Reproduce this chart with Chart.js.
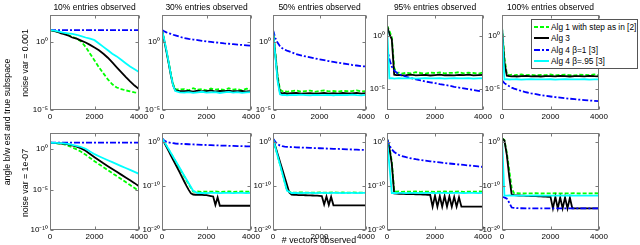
<!DOCTYPE html>
<html>
<head>
<meta charset="utf-8">
<script src="https://cdn.jsdelivr.net/npm/chart.js@4"></script>
<style>
  html, body { margin: 0; padding: 0; background: #fff; }
  #fig { position: relative; width: 640px; height: 245px; overflow: hidden; font-family: "Liberation Sans", Arial, sans-serif; color: #000; }
  #fig canvas { position: absolute; }
  .lbl { position: absolute; white-space: nowrap; font-size: 8.8px; line-height: 1; }
  .rot { transform: translate(-50%, -50%) rotate(-90deg); }
  .ctr { transform: translate(-50%, -50%); }
  #legend { position: absolute; left: 531px; top: 19px; width: 107px; height: 50px; box-sizing: border-box;
            border: 1px solid #555; background: #fff; font-size: 8.3px; padding-top: 1px; z-index: 5; }
  #legend .row { height: 11.5px; display: flex; align-items: center; white-space: nowrap; }
  #legend svg { margin: 0 2px 0 2px; flex: none; }
</style>
</head>
<body>
<div id="fig"></div>
<script>
// x positions (# vectors observed)
const xs = [0, 100, 200, 300, 400, 500, 600, 800, 1000, 1200, 1400, 1600, 1800, 2000, 2200, 2400, 2600, 2800, 3000, 3200, 3400, 3600, 3800, 4000];
// finer grid, used by the jumpy Alg 3 curves of the low-noise row
const xsFine = [0, 100, 200, 300, 400, 500, 600, 700, 800, 900, 1000, 1100, 1200, 1300, 1400, 1500, 1600, 1700, 1800, 1900, 2000,
                2100, 2200, 2300, 2400, 2500, 2600, 2700, 2800, 2900, 3000, 3100, 3200, 3300, 3400, 3500, 3600, 3700, 3800, 3900, 4000];

const panelTitles = ['10% entries observed', '30% entries observed', '50% entries observed', '95% entries observed', '100% entries observed'];
const noiseLabels = ['noise var = 0.001', 'noise var = 1e-07'];
const seriesNames = ['Alg 1 with step as in [2]', 'Alg 3', 'Alg 4 \u03b2=1 [3]', 'Alg 4 \u03b2=.95 [3]'];

const xTicks = [0, 2000, 4000];
const yTicksTop = [1, 1e-5];
const yTicksBottomFirst = [1, 1e-5, 1e-10];
const yTicksBottom = [1, 1e-10, 1e-20];
const yRangeTop = [[1e-5, 1e2], [1e-5, 1e2], [1e-5, 1e2], [1e-7, 1e2], [1e-7, 1e2]];
const yRangeBottom = [[1e-10, 1e2], [1e-20, 1e2], [1e-20, 1e2], [1e-20, 1e2], [1e-20, 1e2]];

// ---- noise var = 0.001 ----
const alg1_hi_10 = [7.6, 7.1, 6.6, 6.0, 5.6, 5.0, 4.5, 3.5, 2.5, 1.8, 1.12, 0.45, 0.14, 0.045, 0.014, 0.005, 0.0018, 7.9e-4, 4.5e-4, 3.5e-4, 2.8e-4, 2.4e-4, 2.0e-4, 1.8e-4];
const alg3_hi_10 = [7.6, 7.1, 6.6, 6.0, 5.2, 4.5, 4.0, 3.2, 2.2, 1.8, 1.3, 0.95, 0.63, 0.4, 0.25, 0.14, 0.071, 0.032, 0.014, 0.0063, 0.0028, 0.0013, 6.3e-4, 3.5e-4];
const alg4b1_hi_10 = [7.6, 7.6, 7.6, 7.6, 7.6, 7.6, 7.6, 7.6, 7.6, 7.6, 7.6, 7.6, 7.6, 7.6, 7.6, 7.6, 7.6, 7.6, 7.6, 7.6, 7.6, 7.6, 7.6, 7.6];
const alg4b95_hi_10 = [7.6, 7.4, 7.1, 6.6, 6.0, 5.5, 5.0, 4.5, 4.0, 3.5, 2.8, 2.2, 1.8, 1.4, 0.79, 0.45, 0.25, 0.14, 0.089, 0.05, 0.028, 0.016, 0.01, 0.0063];

const alg1_hi_30 = [7.9, 1.41, 0.22, 0.032, 0.0045, 7.9e-4, 3.5e-4, 3.2e-4, 3.5e-4, 2.8e-4, 4.0e-4, 3.2e-4, 3.5e-4, 2.8e-4, 3.8e-4, 3.2e-4, 3.5e-4, 3.0e-4, 4.0e-4, 3.2e-4, 3.5e-4, 2.8e-4, 3.8e-4, 3.3e-4];
const alg3_hi_30 = [7.9, 1.26, 0.2, 0.028, 0.0035, 6.3e-4, 2.8e-4, 2.5e-4, 2.4e-4, 2.6e-4, 2.3e-4, 2.7e-4, 2.4e-4, 2.5e-4, 2.75e-4, 2.3e-4, 2.6e-4, 2.45e-4, 2.7e-4, 2.4e-4, 2.5e-4, 2.6e-4, 2.3e-4, 2.5e-4];
const alg4b1_hi_30 = [7.9, 6.3, 5.2, 4.5, 4.0, 3.5, 3.2, 2.5, 2.0, 1.74, 1.55, 1.41, 1.26, 1.12, 1.05, 0.95, 0.89, 0.81, 0.76, 0.71, 0.66, 0.62, 0.58, 0.54];
const alg4b95_hi_30 = [7.9, 1.58, 0.25, 0.032, 0.004, 6.3e-4, 2.5e-4, 2.0e-4, 1.9e-4, 2.1e-4, 1.86e-4, 2.0e-4, 2.2e-4, 1.9e-4, 2.0e-4, 2.1e-4, 1.8e-4, 2.0e-4, 2.15e-4, 1.9e-4, 2.05e-4, 1.86e-4, 2.0e-4, 2.1e-4];

const alg1_hi_50 = [7.9, 0.16, 0.0032, 3.2e-4, 2.4e-4, 2.6e-4, 2.2e-4, 2.5e-4, 2.8e-4, 2.3e-4, 2.5e-4, 2.7e-4, 2.2e-4, 2.5e-4, 2.75e-4, 2.35e-4, 2.5e-4, 2.2e-4, 2.6e-4, 2.4e-4, 2.5e-4, 2.8e-4, 2.35e-4, 2.5e-4];
const alg3_hi_50 = [7.9, 0.126, 0.002, 2.0e-4, 1.66e-4, 1.78e-4, 1.58e-4, 1.74e-4, 1.82e-4, 1.62e-4, 1.7e-4, 1.78e-4, 1.58e-4, 1.7e-4, 1.82e-4, 1.62e-4, 1.74e-4, 1.58e-4, 1.78e-4, 1.66e-4, 1.7e-4, 1.82e-4, 1.62e-4, 1.74e-4];
const alg4b1_hi_50 = [7.9, 2.0, 0.89, 0.5, 0.35, 0.28, 0.24, 0.18, 0.13, 0.107, 0.089, 0.076, 0.063, 0.054, 0.047, 0.04, 0.035, 0.03, 0.027, 0.024, 0.021, 0.019, 0.017, 0.016];
const alg4b95_hi_50 = [7.9, 0.1, 0.00126, 1.41e-4, 1.26e-4, 1.32e-4, 1.2e-4, 1.29e-4, 1.23e-4, 1.35e-4, 1.26e-4, 1.2e-4, 1.32e-4, 1.26e-4, 1.23e-4, 1.29e-4, 1.2e-4, 1.32e-4, 1.26e-4, 1.23e-4, 1.35e-4, 1.26e-4, 1.2e-4, 1.29e-4];

const alg1_hi_95 = [10, 3.2, 0.79, 0.001, 3.2e-4, 3.5e-4, 2.8e-4, 3.3e-4, 3.0e-4, 3.8e-4, 3.2e-4, 2.8e-4, 3.5e-4, 3.2e-4, 3.6e-4, 3.0e-4, 3.3e-4, 3.2e-4, 3.8e-4, 3.0e-4, 3.4e-4, 3.2e-4, 2.8e-4, 3.5e-4];
const alg3_hi_95 = [10, 1.58, 0.5, 2.2e-4, 2.0e-4, 2.1e-4, 1.9e-4, 2.0e-4, 2.2e-4, 1.9e-4, 2.0e-4, 2.1e-4, 1.86e-4, 2.0e-4, 2.2e-4, 1.95e-4, 2.05e-4, 1.9e-4, 2.1e-4, 2.0e-4, 2.2e-4, 1.9e-4, 2.0e-4, 2.1e-4];
const alg4b1_hi_95 = [0.1, 0.0063, 0.00126, 5.6e-4, 3.5e-4, 2.5e-4, 2.0e-4, 1.41e-4, 1.05e-4, 7.9e-5, 6.3e-5, 5.0e-5, 4.2e-5, 3.5e-5, 2.8e-5, 2.4e-5, 2.0e-5, 1.58e-5, 1.32e-5, 1.12e-5, 9.3e-6, 7.9e-6, 6.6e-6, 5.6e-6];
const alg4b95_hi_95 = [10, 1.0e-4, 1.05e-4, 9.5e-5, 1.0e-4, 1.02e-4, 9.7e-5, 1.0e-4, 1.05e-4, 9.5e-5, 1.0e-4, 1.02e-4, 9.7e-5, 1.0e-4, 1.05e-4, 9.5e-5, 1.0e-4, 1.02e-4, 9.7e-5, 1.0e-4, 1.05e-4, 9.5e-5, 1.0e-4, 1.02e-4];

const alg1_hi_100 = [6.3, 0.01, 2.5e-4, 2.0e-4, 2.2e-4, 1.9e-4, 2.1e-4, 2.3e-4, 2.0e-4, 2.2e-4, 1.9e-4, 2.1e-4, 2.0e-4, 2.3e-4, 1.9e-4, 2.1e-4, 2.2e-4, 2.0e-4, 1.9e-4, 2.2e-4, 2.1e-4, 2.0e-4, 2.3e-4, 2.0e-4];
const alg3_hi_100 = [6.3, 0.0032, 1.8e-4, 1.6e-4, 1.55e-4, 1.65e-4, 1.5e-4, 1.6e-4, 1.7e-4, 1.55e-4, 1.6e-4, 1.5e-4, 1.65e-4, 1.6e-4, 1.55e-4, 1.7e-4, 1.6e-4, 1.5e-4, 1.65e-4, 1.6e-4, 1.55e-4, 1.7e-4, 1.6e-4, 1.55e-4];
const alg4b1_hi_100 = [6.3e-5, 3.5e-5, 2.5e-5, 1.78e-5, 1.32e-5, 1.05e-5, 8.9e-6, 6.3e-6, 4.8e-6, 3.8e-6, 3.2e-6, 2.6e-6, 2.2e-6, 1.9e-6, 1.66e-6, 1.48e-6, 1.32e-6, 1.17e-6, 1.07e-6, 9.5e-7, 8.7e-7, 7.9e-7, 7.4e-7, 6.8e-7];
const alg4b95_hi_100 = [10, 8.0e-5, 8.3e-5, 7.8e-5, 8.1e-5, 7.9e-5, 8.2e-5, 7.7e-5, 8.0e-5, 8.3e-5, 7.8e-5, 8.1e-5, 7.9e-5, 8.2e-5, 7.7e-5, 8.0e-5, 8.3e-5, 7.8e-5, 8.1e-5, 7.9e-5, 8.2e-5, 7.7e-5, 8.0e-5, 8.1e-5];

// ---- noise var = 1e-07 ----
const alg1_lo_10 = [6.3, 6.0, 5.75, 5.4, 5.0, 4.6, 4.2, 2.8, 1.66, 0.95, 0.48, 0.21, 0.083, 0.033, 0.0138, 0.0059, 0.0025, 0.00107, 4.7e-4, 2.0e-4, 8.5e-5, 3.6e-5, 1.58e-5, 6.3e-6];
const alg3_lo_10 = [6.3, 6.0, 5.75, 5.5, 5.2, 5.0, 4.8, 4.0, 3.0, 2.1, 1.26, 0.63, 0.25, 0.1, 0.042, 0.0178, 0.0079, 0.0035, 0.00158, 7.1e-4, 3.2e-4, 1.41e-4, 6.3e-5, 2.5e-5];
const alg4b1_lo_10 = [6.3, 6.3, 6.3, 6.3, 6.3, 6.3, 6.3, 6.3, 6.3, 6.3, 6.3, 6.3, 6.3, 6.3, 6.3, 6.3, 6.3, 6.3, 6.3, 6.3, 6.3, 6.3, 6.3, 6.3];
const alg4b95_lo_10 = [6.3, 6.2, 6.0, 5.9, 5.75, 5.5, 5.2, 4.6, 3.5, 2.6, 1.86, 1.12, 0.5, 0.24, 0.135, 0.076, 0.043, 0.0245, 0.0141, 0.0081, 0.0047, 0.0027, 0.00158, 8.9e-4];

const alg1_lo_30 = [6.3, 0.89, 0.126, 0.0158, 0.0022, 3.2e-4, 4.0e-5, 7.9e-7, 1.41e-8, 2.5e-10, 5.0e-12, 5.6e-12, 4.5e-12, 5.2e-12, 4.8e-12, 5.6e-12, 4.5e-12, 5.0e-12, 5.4e-12, 4.6e-12, 5.0e-12, 5.5e-12, 4.7e-12, 5.0e-12];
const alg3_lo_30 = [6.3, 0.66, 0.071, 0.0079, 7.9e-4, 7.9e-5, 8.9e-6, 1.0e-6, 1.0e-7, 1.0e-8, 1.0e-9, 1.0e-10, 1.26e-11, 2.0e-12, 1.12e-12, 1.0e-12, 1.0e-12, 8.9e-13, 8.9e-13, 7.9e-13, 7.9e-13,
                    6.3e-13, 5.0e-13, 4.0e-13, 5.0e-15, 2.5e-13, 3.2e-15, 3.2e-15, 3.2e-15, 3.2e-15, 3.2e-15, 3.2e-15, 3.2e-15, 3.2e-15, 3.2e-15, 3.2e-15, 3.2e-15, 3.2e-15, 3.2e-15, 3.2e-15, 3.2e-15];
const alg4b1_lo_30 = [6.3, 2.0, 1.0, 0.71, 0.56, 0.48, 0.42, 0.35, 0.32, 0.28, 0.25, 0.23, 0.21, 0.19, 0.17, 0.16, 0.145, 0.135, 0.126, 0.117, 0.11, 0.102, 0.095, 0.089];
const alg4b95_lo_30 = [6.3, 1.0, 0.141, 0.02, 0.0028, 4.0e-4, 5.6e-5, 1.12e-6, 2.0e-8, 4.0e-10, 7.9e-12, 2.5e-12, 2.6e-12, 2.4e-12, 2.5e-12, 2.6e-12, 2.4e-12, 2.5e-12, 2.6e-12, 2.4e-12, 2.5e-12, 2.6e-12, 2.4e-12, 2.5e-12];

const alg1_lo_50 = [5.4, 0.063, 7.1e-4, 7.9e-6, 8.9e-8, 8.9e-10, 1.0e-11, 3.2e-12, 2.9e-12, 3.4e-12, 3.0e-12, 3.2e-12, 2.8e-12, 3.3e-12, 3.1e-12, 2.9e-12, 3.4e-12, 3.0e-12, 3.2e-12, 2.8e-12, 3.3e-12, 3.1e-12, 2.9e-12, 3.2e-12];
const alg3_lo_50 = [5.4, 0.1, 0.0018, 3.2e-5, 5.6e-7, 1.0e-8, 1.8e-10, 3.2e-12, 1.0e-12, 9.5e-13, 8.9e-13, 8.5e-13, 7.9e-13, 7.8e-13, 7.6e-13, 7.2e-13, 7.1e-13, 6.6e-13, 6.3e-13, 6.0e-13, 5.6e-13,
                    5.0e-13, 6.3e-15, 4.0e-13, 5.0e-15, 3.2e-13, 4.0e-15, 4.0e-15, 4.0e-15, 4.0e-15, 4.0e-15, 4.0e-15, 4.0e-15, 4.0e-15, 4.0e-15, 4.0e-15, 4.0e-15, 4.0e-15, 4.0e-15, 4.0e-15, 4.0e-15];
const alg4b1_lo_50 = [5.4, 1.0, 0.32, 0.141, 0.1, 0.083, 0.074, 0.063, 0.056, 0.05, 0.046, 0.042, 0.038, 0.035, 0.032, 0.029, 0.026, 0.024, 0.022, 0.02, 0.018, 0.0166, 0.0151, 0.0138];
const alg4b95_lo_50 = [5.4, 0.059, 6.3e-4, 7.1e-6, 7.9e-8, 7.9e-10, 8.9e-12, 2.5e-12, 2.6e-12, 2.4e-12, 2.5e-12, 2.6e-12, 2.4e-12, 2.5e-12, 2.6e-12, 2.4e-12, 2.5e-12, 2.6e-12, 2.4e-12, 2.5e-12, 2.6e-12, 2.4e-12, 2.5e-12, 2.6e-12];

const alg1_lo_95 = [5.0, 0.1, 3.2e-5, 6.3e-12, 5.0e-12, 5.5e-12, 4.6e-12, 5.2e-12, 4.8e-12, 5.6e-12, 4.5e-12, 5.0e-12, 5.4e-12, 4.6e-12, 5.0e-12, 5.5e-12, 4.7e-12, 5.0e-12, 5.6e-12, 4.5e-12, 5.2e-12, 4.8e-12, 5.4e-12, 5.0e-12];
const alg3_lo_95 = [5.0, 0.032, 1.0e-5, 2.0e-12, 1.78e-12, 1.66e-12, 1.58e-12, 1.51e-12, 1.48e-12, 1.41e-12, 1.35e-12, 1.32e-12, 1.26e-12, 1.2e-12, 1.17e-12, 1.12e-12, 1.07e-12, 1.0e-12, 8.9e-13, 2.0e-15, 6.3e-13,
                    2.0e-15, 5.0e-13, 2.0e-15, 5.0e-13, 2.0e-15, 4.0e-13, 2.0e-15, 3.2e-13, 2.0e-15, 2.5e-13, 2.0e-15, 2.0e-15, 2.0e-15, 2.0e-15, 2.0e-15, 2.0e-15, 2.0e-15, 2.0e-15, 2.0e-15, 2.0e-15];
const alg4b1_lo_95 = [5.0, 0.158, 0.02, 0.005, 0.002, 0.001, 6.3e-4, 3.2e-4, 1.78e-4, 1.12e-4, 7.6e-5, 5.2e-5, 3.8e-5, 2.8e-5, 2.1e-5, 1.58e-5, 1.2e-5, 9.3e-6, 7.2e-6, 5.6e-6, 4.4e-6, 3.4e-6, 2.6e-6, 2.0e-6];
const alg4b95_lo_95 = [5.0, 3.2e-6, 2.5e-12, 2.6e-12, 2.4e-12, 2.5e-12, 2.6e-12, 2.4e-12, 2.5e-12, 2.6e-12, 2.4e-12, 2.5e-12, 2.6e-12, 2.4e-12, 2.5e-12, 2.6e-12, 2.4e-12, 2.5e-12, 2.6e-12, 2.4e-12, 2.5e-12, 2.6e-12, 2.4e-12, 2.5e-12];

const alg1_lo_100 = [6.3, 2.5, 0.0032, 3.2e-7, 3.2e-11, 2.0e-12, 2.2e-12, 1.9e-12, 2.1e-12, 2.0e-12, 2.2e-12, 1.9e-12, 2.1e-12, 2.0e-12, 2.2e-12, 1.9e-12, 2.1e-12, 2.0e-12, 2.2e-12, 1.9e-12, 2.1e-12, 2.0e-12, 2.2e-12, 2.0e-12];
const alg3_lo_100 = [6.3, 2.0, 0.001, 1.0e-8, 1.0e-12, 7.9e-13, 7.1e-13, 6.6e-13, 6.3e-13, 6.0e-13, 5.6e-13, 5.4e-13, 5.0e-13, 4.8e-13, 4.7e-13, 4.5e-13, 4.3e-13, 4.0e-13, 3.8e-13, 3.5e-13, 3.2e-13,
                     7.9e-16, 3.2e-13, 7.9e-16, 2.5e-13, 7.9e-16, 2.5e-13, 7.9e-16, 2.0e-13, 7.9e-16, 7.9e-16, 7.9e-16, 7.9e-16, 7.9e-16, 7.9e-16, 7.9e-16, 7.9e-16, 7.9e-16, 7.9e-16, 7.9e-16, 7.9e-16];
const alg4b1_lo_100 = [3.2e-13, 2.5e-13, 1.26e-13, 1.58e-14, 1.26e-15, 1.0e-15, 8.9e-16, 8.5e-16, 8.2e-16, 8.0e-16, 7.9e-16, 7.9e-16, 7.9e-16, 7.9e-16, 7.9e-16, 7.9e-16, 7.9e-16, 7.9e-16, 7.9e-16, 7.9e-16, 7.9e-16, 7.9e-16, 7.9e-16, 7.9e-16];
const alg4b95_lo_100 = [7.9, 6.3e-13, 6.0e-13, 6.6e-13, 6.2e-13, 6.4e-13, 6.0e-13, 6.5e-13, 6.3e-13, 6.1e-13, 6.6e-13, 6.2e-13, 6.4e-13, 6.0e-13, 6.5e-13, 6.3e-13, 6.1e-13, 6.6e-13, 6.2e-13, 6.4e-13, 6.0e-13, 6.5e-13, 6.3e-13, 6.2e-13];

const panels = [
  [[alg1_hi_10, alg3_hi_10, alg4b1_hi_10, alg4b95_hi_10],
   [alg1_hi_30, alg3_hi_30, alg4b1_hi_30, alg4b95_hi_30],
   [alg1_hi_50, alg3_hi_50, alg4b1_hi_50, alg4b95_hi_50],
   [alg1_hi_95, alg3_hi_95, alg4b1_hi_95, alg4b95_hi_95],
   [alg1_hi_100, alg3_hi_100, alg4b1_hi_100, alg4b95_hi_100]],
  [[alg1_lo_10, alg3_lo_10, alg4b1_lo_10, alg4b95_lo_10],
   [alg1_lo_30, alg3_lo_30, alg4b1_lo_30, alg4b95_lo_30],
   [alg1_lo_50, alg3_lo_50, alg4b1_lo_50, alg4b95_lo_50],
   [alg1_lo_95, alg3_lo_95, alg4b1_lo_95, alg4b95_lo_95],
   [alg1_lo_100, alg3_lo_100, alg4b1_lo_100, alg4b95_lo_100]]
];

// layout of the plot boxes (pixels)
const colLeft = [50, 162, 273, 387, 502];
const colWidth = [89, 89, 93, 96, 97];
const rowTop = [15, 133];
const rowHeight = [95, 97];

const lineStyles = [
  { color: '#00ff00', dash: [4, 2], order: 4 },
  { color: '#000000', dash: [], order: 3 },
  { color: '#0000ff', dash: [6, 2, 2, 2], order: 2 },
  { color: '#00ffff', dash: [], order: 1 }
];

const FONT = '"Liberation Sans", Arial, sans-serif';
const sup = { '0': '\u2070', '1': '\u00b9', '2': '\u00b2', '5': '\u2075', '-': '\u207b' };
function powerLabel(v) {
  const e = String(Math.round(Math.log10(v)));
  return '10' + e.split('').map(c => sup[c]).join('');
}

// box around the plot area with inward tick marks
const frame = {
  id: 'frame',
  afterDatasetsDraw(chart) {
    const { ctx, chartArea: a, scales } = chart;
    const l = Math.round(a.left) + 0.5, t = Math.round(a.top) + 0.5;
    const r = Math.round(a.right) - 0.5, b = Math.round(a.bottom) - 0.5;
    ctx.save();
    ctx.strokeStyle = '#7a7a7a';
    ctx.lineWidth = 1;
    ctx.strokeRect(l, t, r - l, b - t);
    ctx.beginPath();
    scales.x.ticks.forEach(tk => {
      const px = Math.round(scales.x.getPixelForValue(tk.value)) + 0.5;
      ctx.moveTo(px, b); ctx.lineTo(px, b - 3);
      ctx.moveTo(px, t); ctx.lineTo(px, t + 3);
    });
    scales.y.ticks.forEach(tk => {
      const py = Math.round(scales.y.getPixelForValue(tk.value)) + 0.5;
      ctx.moveTo(l, py); ctx.lineTo(l + 3, py);
      ctx.moveTo(r, py); ctx.lineTo(r - 3, py);
    });
    ctx.stroke();
    ctx.restore();
  }
};

const fig = document.getElementById('fig');

function makePanel(row, col) {
  const padTop = row === 0 ? 15 : 8;
  const w = colWidth[col] + 40 + 12;
  const h = padTop + rowHeight[row] + 14;
  const canvas = document.createElement('canvas');
  canvas.width = w;
  canvas.height = h;
  canvas.style.left = (colLeft[col] - 40) + 'px';
  canvas.style.top = (rowTop[row] - padTop) + 'px';
  canvas.style.width = w + 'px';
  canvas.style.height = h + 'px';
  fig.appendChild(canvas);

  const range = row === 0 ? yRangeTop[col] : yRangeBottom[col];
  const yTicks = row === 0 ? yTicksTop : (col === 0 ? yTicksBottomFirst : yTicksBottom);

  const datasets = panels[row][col].map((vals, i) => {
    const xVals = vals.length === xsFine.length ? xsFine : xs;
    return {
      label: seriesNames[i],
      data: xVals.map((x, j) => ({ x: x, y: vals[j] })),
      borderColor: lineStyles[i].color,
      borderDash: lineStyles[i].dash,
      borderWidth: 1.8,
      pointRadius: 0,
      fill: false,
      tension: 0,
      order: lineStyles[i].order
    };
  });

  new Chart(canvas.getContext('2d'), {
    type: 'line',
    data: { datasets: datasets },
    plugins: [frame],
    options: {
      responsive: false,
      animation: false,
      devicePixelRatio: 1,
      layout: { padding: { top: row === 0 ? 0 : padTop, right: 12, left: 0, bottom: 0 } },
      plugins: {
        legend: { display: false },
        tooltip: { enabled: false },
        title: {
          display: row === 0,
          text: panelTitles[col],
          fullSize: false,
          color: '#000',
          font: { family: FONT, size: 8.5, weight: 'normal', lineHeight: 1.2 },
          padding: { top: 3, bottom: 1.8 }
        }
      },
      scales: {
        x: {
          type: 'linear',
          min: 0,
          max: 4000,
          bounds: 'data',
          afterBuildTicks: s => { s.ticks = xTicks.map(v => ({ value: v })); },
          afterFit: s => { s.height = 14; },
          grid: { display: false, drawTicks: false },
          border: { display: false },
          ticks: {
            color: '#000',
            font: { family: FONT, size: 8 },
            padding: 2,
            maxRotation: 0,
            autoSkip: false,
            callback: v => String(v)
          }
        },
        y: {
          type: 'logarithmic',
          min: range[0],
          max: range[1],
          bounds: 'data',
          afterBuildTicks: s => { s.ticks = yTicks.map(v => ({ value: v })); },
          afterFit: s => { s.width = 40; },
          grid: { display: false, drawTicks: false },
          border: { display: false },
          ticks: {
            color: '#000',
            font: { family: FONT, size: 8 },
            padding: 2,
            autoSkip: false,
            callback: v => powerLabel(v)
          }
        }
      }
    }
  });
}

for (let r = 0; r < 2; r++) {
  for (let c = 0; c < 5; c++) makePanel(r, c);
}

// axis labels outside the panels
function addLabel(text, cx, cy, cls) {
  const d = document.createElement('div');
  d.className = 'lbl ' + cls;
  d.style.left = cx + 'px';
  d.style.top = cy + 'px';
  d.textContent = text;
  fig.appendChild(d);
}
addLabel('angle b/w est and true subspace', 7, 122, 'rot');
addLabel(noiseLabels[0], 25, 63, 'rot');
addLabel(noiseLabels[1], 25, 183, 'rot');
addLabel('# vectors observed', 319, 240, 'ctr');

// legend (drawn on top of the 100% panel)
const legend = document.createElement('div');
legend.id = 'legend';
seriesNames.forEach((name, i) => {
  const rowDiv = document.createElement('div');
  rowDiv.className = 'row';
  const st = lineStyles[i];
  rowDiv.innerHTML = '<svg width="15" height="6"><line x1="0" y1="3" x2="15" y2="3" stroke="' + st.color +
    '" stroke-width="2" stroke-dasharray="' + (st.dash.length ? st.dash.join(' ') : 'none') + '"/></svg>';
  const span = document.createElement('span');
  span.textContent = name;
  rowDiv.appendChild(span);
  legend.appendChild(rowDiv);
});
fig.appendChild(legend);
</script>
</body>
</html>
